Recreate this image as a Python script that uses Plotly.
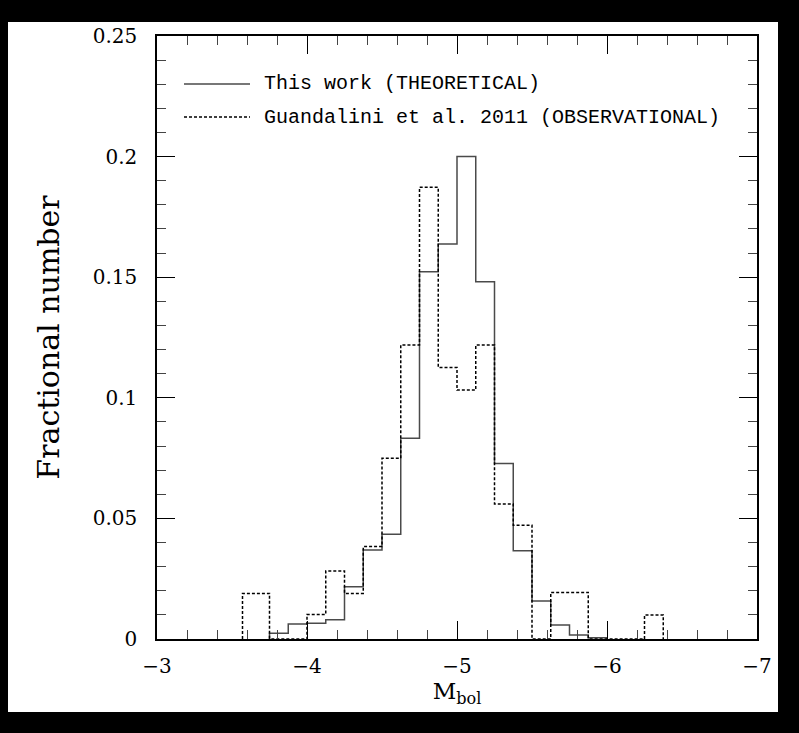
import plotly.graph_objects as go

# ---- data ----
theo_edges = [-3.75, -3.875, -4.0, -4.125, -4.25, -4.375, -4.5, -4.625, -4.75, -4.875,
              -5.0, -5.125, -5.25, -5.375, -5.5, -5.625, -5.75, -5.875, -6.0]
theo_values = [0.0024, 0.0062, 0.0065, 0.0080, 0.0217, 0.0369, 0.0434, 0.0832, 0.1523,
               0.1638, 0.2000, 0.1481, 0.0728, 0.0366, 0.0158, 0.0058, 0.0017, 0.0005]

obs_edges = [-3.57, -3.75, -3.875, -4.0, -4.125, -4.25, -4.375, -4.5, -4.625, -4.75,
             -4.875, -5.0, -5.125, -5.25, -5.375, -5.5, -5.625, -5.75, -5.875, -6.0,
             -6.125, -6.25, -6.375]
obs_values = [0.0189, 0.0, 0.0, 0.0102, 0.0282, 0.0189, 0.0383, 0.0749, 0.1219, 0.1873,
              0.1126, 0.1032, 0.1219, 0.0560, 0.0472, 0.0, 0.0193, 0.0193, 0.0, 0.0,
              0.0, 0.0100]

x_ticks = [-3, -4, -5, -6, -7]
x_ticktext = ["\u22123", "\u22124", "\u22125", "\u22126", "\u22127"]
y_ticks = [0, 0.05, 0.1, 0.15, 0.2, 0.25]
y_ticktext = ["0", "0.05", "0.1", "0.15", "0.2", "0.25"]

legend_labels = ["This work (THEORETICAL)", "Guandalini et al. 2011 (OBSERVATIONAL)"]


def steps(edges, values):
    xs, ys = [edges[0]], [0.0]
    for i, v in enumerate(values):
        xs += [edges[i], edges[i + 1]]
        ys += [v, v]
    xs.append(edges[-1])
    ys.append(0.0)
    return xs, ys


# ---- layout geometry (pixels) ----
W, H = 799, 733
L, R, T, B = 157, 42, 36, 94
pw, ph = W - L - R, H - T - B


def px(xp):
    return (xp - L) / pw


def py(yp):
    return (H - B - yp) / ph


fig = go.Figure()

tx, ty = steps(theo_edges, theo_values)
fig.add_trace(go.Scatter(x=tx, y=ty, mode="lines", line=dict(color="#4a4a4a", width=1.5),
                         showlegend=False, hoverinfo="skip"))
ox, oy = steps(obs_edges, obs_values)
fig.add_trace(go.Scatter(x=ox, y=oy, mode="lines",
                         line=dict(color="black", width=1.5, dash="3px,2px"),
                         showlegend=False, hoverinfo="skip"))

serif = "DejaVu Serif"
mono = "Liberation Mono"

shapes = [
    # white page area (outer border of the picture is black)
    dict(type="rect", xref="paper", yref="paper", layer="below",
         x0=px(8), x1=px(778), y0=py(712), y1=py(22),
         fillcolor="white", line=dict(width=0)),
    # legend samples
    dict(type="line", xref="paper", yref="paper", x0=px(184), x1=px(250), y0=py(84), y1=py(84),
         line=dict(color="#4a4a4a", width=1.5)),
    dict(type="line", xref="paper", yref="paper", x0=px(184), x1=px(250), y0=py(117), y1=py(117),
         line=dict(color="black", width=1.5, dash="3px,2px")),
]

annotations = [
    dict(text=legend_labels[0], xref="paper", yref="paper", x=px(262), y=py(84),
         xanchor="left", yanchor="middle", showarrow=False,
         font=dict(family=mono, size=20, color="black")),
    dict(text=legend_labels[1], xref="paper", yref="paper", x=px(262), y=py(117),
         xanchor="left", yanchor="middle", showarrow=False,
         font=dict(family=mono, size=20, color="black")),
]

fig.update_layout(
    width=W, height=H,
    margin=dict(l=L, r=R, t=T, b=B),
    paper_bgcolor="black",
    plot_bgcolor="white",
    shapes=shapes,
    annotations=annotations,
    showlegend=False,
    xaxis=dict(
        range=[-3, -7], tickmode="array", tickvals=x_ticks, ticktext=x_ticktext,
        ticks="inside", ticklen=18, tickwidth=1, tickcolor="black",
        minor=dict(dtick=0.2, tick0=-3, ticks="inside", ticklen=9, tickwidth=1, tickcolor="#444"),
        showline=True, linecolor="black", linewidth=1.5, mirror="allticks",
        showgrid=False, zeroline=False,
        tickfont=dict(family=serif, size=20, color="black"),
        ticklabelstandoff=8,
        title=dict(text="M<sub>bol</sub>", font=dict(family=serif, size=23, color="black"),
                   standoff=6),
    ),
    yaxis=dict(
        range=[0, 0.25], tickmode="array", tickvals=y_ticks, ticktext=y_ticktext,
        ticks="inside", ticklen=18, tickwidth=1, tickcolor="black",
        minor=dict(dtick=0.01, tick0=0, ticks="inside", ticklen=9, tickwidth=1, tickcolor="#444"),
        showline=True, linecolor="black", linewidth=1.5, mirror="allticks",
        showgrid=False, zeroline=False,
        tickfont=dict(family=serif, size=20, color="black"),
        ticklabelstandoff=14,
        title=dict(text="Fractional number", font=dict(family=serif, size=30, color="black"),
                   standoff=24),
    ),
)

fig.write_html("out.html")
